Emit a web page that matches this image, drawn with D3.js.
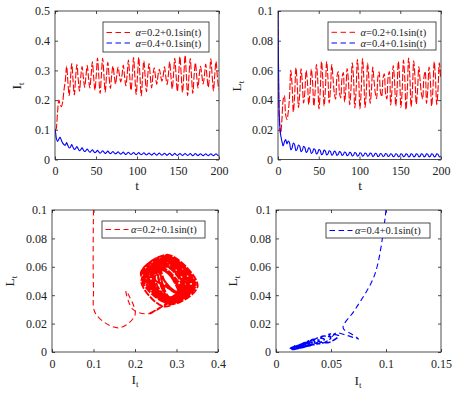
<!DOCTYPE html>
<html>
<head>
<meta charset="utf-8">
<script src="https://cdn.jsdelivr.net/npm/d3@7"></script>
<style>
  body { margin: 0; background: #fff; }
  text { font-family: "Liberation Serif", "Times New Roman", serif; fill: #222; }
</style>
</head>
<body>
<script>
// sample times (about four per forcing period after the start-up)
var tGrid = [0, 0.8, 1.57, 3.14, 4.71, 6.28, 7.85, 9.42, 11.0,
  12.57, 14.14, 15.71, 17.28,   18.85, 20.42, 21.99, 23.56,
  25.13, 26.7, 28.27, 29.85,    31.42, 32.99, 34.56, 36.13,
  37.7, 39.27, 40.84, 42.41,    43.98, 45.55, 47.12, 48.69,
  50.27, 51.84, 53.41, 54.98,   56.55, 58.12, 59.69, 61.26,
  62.83, 64.4, 65.97, 67.54,    69.12, 70.69, 72.26, 73.83,
  75.4, 76.97, 78.54, 80.11,    81.68, 83.25, 84.82, 86.39,
  87.96, 89.54, 91.11, 92.68,   94.25, 95.82, 97.39, 98.96,
  100.53, 102.1, 103.67, 105.24, 106.81, 108.38, 109.96, 111.53,
  113.1, 114.67, 116.24, 117.81, 119.38, 120.95, 122.52, 124.09,
  125.66, 127.23, 128.81, 130.38, 131.95, 133.52, 135.09, 136.66,
  138.23, 139.8, 141.37, 142.94, 144.51, 146.08, 147.65, 149.23,
  150.8, 152.37, 153.94, 155.51, 157.08, 158.65, 160.22, 161.79,
  163.36, 164.93, 166.5, 168.07, 169.65, 171.22, 172.79, 174.36,
  175.93, 177.5, 179.07, 180.64, 182.21, 183.78, 185.35, 186.92,
  188.5, 190.07, 191.64, 193.21, 194.78, 196.35, 197.92, 199.49];

// alpha = 0.2 + 0.1 sin(t)
var redI = [0.100, 0.100, 0.105, 0.160, 0.200, 0.185, 0.178, 0.195, 0.235,
  0.265, 0.315, 0.262, 0.215,  0.270, 0.323, 0.268, 0.217,
  0.275, 0.320, 0.272, 0.230,  0.278, 0.313, 0.276, 0.243,
  0.279, 0.317, 0.277, 0.241,  0.281, 0.329, 0.278, 0.233,
  0.282, 0.342, 0.280, 0.222,  0.284, 0.341, 0.282, 0.227,
  0.283, 0.327, 0.280, 0.239,  0.284, 0.314, 0.282, 0.254,
  0.286, 0.311, 0.284, 0.261,  0.283, 0.318, 0.281, 0.248,
  0.284, 0.335, 0.281, 0.233,  0.281, 0.343, 0.279, 0.219,
  0.279, 0.344, 0.277, 0.214,  0.280, 0.332, 0.278, 0.228,
  0.282, 0.323, 0.280, 0.241,  0.281, 0.309, 0.280, 0.253,
  0.284, 0.304, 0.283, 0.264,  0.282, 0.312, 0.280, 0.252,
  0.284, 0.330, 0.281, 0.238,  0.285, 0.341, 0.283, 0.229,
  0.286, 0.346, 0.284, 0.226,  0.283, 0.351, 0.280, 0.215,
  0.281, 0.340, 0.279, 0.222,  0.283, 0.325, 0.281, 0.241,
  0.284, 0.314, 0.283, 0.254,  0.282, 0.321, 0.280, 0.243,
  0.285, 0.339, 0.283, 0.231,  0.283, 0.330, 0.281, 0.236];

var redL = [0.100, 0.045, 0.027, 0.017, 0.026, 0.040, 0.043, 0.030, 0.027,
  0.032, 0.042, 0.060, 0.050,      0.032, 0.043, 0.062, 0.051,
  0.035, 0.0445, 0.061, 0.0515,    0.038, 0.046, 0.060, 0.052,
  0.037, 0.0457, 0.061, 0.0523,    0.036, 0.046, 0.064, 0.054,
  0.034, 0.046, 0.066, 0.054,      0.036, 0.047, 0.066, 0.055,
  0.038, 0.0475, 0.064, 0.0545,    0.0446, 0.0407, 0.0554, 0.0593,
  0.0451, 0.0415, 0.0549, 0.0585,  0.0387, 0.047, 0.0613, 0.053,
  0.0369, 0.0472, 0.0651, 0.0548,  0.0347, 0.0466, 0.0673, 0.0554,
  0.0341, 0.0465, 0.0679, 0.0555,  0.035, 0.046, 0.065, 0.054,
  0.0378, 0.0467, 0.0622, 0.0533,  0.0448, 0.041, 0.0552, 0.059,
  0.0456, 0.0423, 0.0544, 0.0577,  0.0446, 0.0407, 0.0554, 0.0593,
  0.0368, 0.0465, 0.0632, 0.0535,  0.036, 0.047, 0.066, 0.055,
  0.0351, 0.0467, 0.0669, 0.0553,  0.0336, 0.0463, 0.0684, 0.0557,
  0.0355, 0.0468, 0.0665, 0.0552,  0.0374, 0.0466, 0.0626, 0.0534,
  0.0446, 0.0407, 0.0554, 0.0593,  0.0378, 0.0467, 0.0622, 0.0533,
  0.036, 0.047, 0.066, 0.055,      0.0369, 0.0472, 0.0651, 0.0548];

// alpha = 0.4 + 0.1 sin(t)
var blueI = [0.100, 0.090, 0.072, 0.061, 0.069, 0.075, 0.064, 0.055, 0.050,
  0.048, 0.057, 0.047, 0.039,      0.042, 0.050, 0.041, 0.034,
  0.037, 0.044, 0.036, 0.030,      0.033, 0.039, 0.032, 0.027,
  0.030, 0.0355, 0.0295, 0.0245,   0.028, 0.033, 0.0275, 0.023,
  0.026, 0.0308, 0.0255, 0.0212,   0.025, 0.0295, 0.0245, 0.0205,
  0.024, 0.0283, 0.0235, 0.0197,   0.023, 0.027, 0.0225, 0.019,
  0.022, 0.026, 0.0215, 0.018,     0.021, 0.025, 0.0205, 0.017,
  0.0205, 0.0243, 0.020, 0.0167,   0.020, 0.0238, 0.0195, 0.0162,
  0.0195, 0.0232, 0.019, 0.0158,   0.019, 0.0227, 0.0185, 0.0153,
  0.0185, 0.0221, 0.018, 0.0149,   0.018, 0.0216, 0.0176, 0.0144,
  0.018, 0.0215, 0.0176, 0.0145,   0.0175, 0.021, 0.0171, 0.014,
  0.0175, 0.021, 0.0171, 0.014,    0.017, 0.0205, 0.0166, 0.0135,
  0.017, 0.0204, 0.0166, 0.0136,   0.0168, 0.0202, 0.0164, 0.0134,
  0.0165, 0.0199, 0.0161, 0.0131,  0.0165, 0.0198, 0.0162, 0.0132,
  0.0163, 0.0196, 0.016, 0.013,    0.016, 0.0193, 0.0157, 0.0127,
  0.016, 0.0193, 0.0157, 0.0127,   0.016, 0.0192, 0.0157, 0.0128];

var blueL = [0.100, 0.055, 0.030, 0.017, 0.0125, 0.0092, 0.0118, 0.0135, 0.0105,
  0.0125, 0.0113, 0.0065, 0.0078,  0.0111, 0.0100, 0.0059, 0.0070,
  0.0098, 0.0089, 0.0052, 0.0062,  0.0089, 0.0080, 0.0047, 0.0056,
  0.0079, 0.0071, 0.0041, 0.0049,  0.0072, 0.0065, 0.0038, 0.0045,
  0.0067, 0.0060, 0.0033, 0.0040,  0.0063, 0.0056, 0.0031, 0.0038,
  0.0059, 0.0053, 0.0029, 0.0036,  0.0056, 0.0050, 0.0028, 0.0034,
  0.0053, 0.0048, 0.0027, 0.0033,  0.0050, 0.0045, 0.0026, 0.0031,
  0.0048, 0.0043, 0.0024, 0.0029,  0.0047, 0.0042, 0.0023, 0.0028,
  0.0045, 0.0041, 0.0023, 0.0028,  0.0044, 0.0040, 0.0022, 0.0027,
  0.0043, 0.0039, 0.0021, 0.0026,  0.0042, 0.0038, 0.0020, 0.0025,
  0.0040, 0.0036, 0.0020, 0.0024,  0.0040, 0.0036, 0.0020, 0.0024,
  0.0039, 0.0035, 0.0019, 0.0023,  0.0039, 0.0035, 0.0019, 0.0023,
  0.0039, 0.0035, 0.0019, 0.0023,  0.0038, 0.0034, 0.0018, 0.0022,
  0.0038, 0.0034, 0.0018, 0.0022,  0.0038, 0.0034, 0.0018, 0.0022,
  0.0038, 0.0034, 0.0018, 0.0022,  0.0038, 0.0034, 0.0018, 0.0022,
  0.0038, 0.0034, 0.0018, 0.0022,  0.0038, 0.0034, 0.0018, 0.0022];

// ticks and labels
var tTicks = [0, 50, 100, 150, 200];
var iTicks = [0, 0.1, 0.2, 0.3, 0.4, 0.5];
var lTicks = [0, 0.02, 0.04, 0.06, 0.08, 0.1];
var iTicksRed = [0, 0.1, 0.2, 0.3, 0.4];
var iTicksBlue = [0, 0.05, 0.1, 0.15];
var redLabel = "=0.2+0.1sin(t)";
var blueLabel = "=0.4+0.1sin(t)";

var red = "#ff0000", blue = "#0000ff";
var dash = "5.5,3.5";
var fmt = d3.format("~g");
var startUp = 9;   // samples before the periodic regime

var svg = d3.select("body").append("svg")
    .attr("width", 456)
    .attr("height", 397);

svg.append("rect").attr("width", 456).attr("height", 397).attr("fill", "#fff");

// draws one boxed axes with inward ticks on all sides
function makePanel(id, box, xDomain, yDomain, xTicks, yTicks) {
    var x = d3.scaleLinear().domain(xDomain).range([box.left, box.right]);
    var y = d3.scaleLinear().domain(yDomain).range([box.bottom, box.top]);

    svg.append("clipPath").attr("id", id)
        .append("rect")
        .attr("x", box.left).attr("y", box.top)
        .attr("width", box.right - box.left).attr("height", box.bottom - box.top);

    var axes = [
        {ax: d3.axisBottom(x).tickValues(xTicks).tickFormat(fmt).tickPadding(7), tr: [0, box.bottom]},
        {ax: d3.axisTop(x).tickValues(xTicks).tickFormat(""), tr: [0, box.top]},
        {ax: d3.axisLeft(y).tickValues(yTicks).tickFormat(fmt).tickPadding(5), tr: [box.left, 0]},
        {ax: d3.axisRight(y).tickValues(yTicks).tickFormat(""), tr: [box.right, 0]}
    ];
    axes.forEach(function(a) {
        var g = svg.append("g")
            .attr("transform", "translate(" + a.tr[0] + "," + a.tr[1] + ")")
            .attr("color", "#222")
            .call(a.ax.tickSizeInner(-3).tickSizeOuter(0));
        g.attr("font-family", null).attr("font-size", 12);
        g.select(".domain").remove();
        g.selectAll("line").attr("stroke-width", 0.8);
    });

    var plot = svg.append("g").attr("clip-path", "url(#" + id + ")");
    return {x: x, y: y, plot: plot, box: box};
}

function boxFrame(p) {
    svg.append("rect")
        .attr("x", p.box.left).attr("y", p.box.top)
        .attr("width", p.box.right - p.box.left).attr("height", p.box.bottom - p.box.top)
        .attr("fill", "none").attr("stroke", "#222").attr("stroke-width", 0.8);
}

// path through samples from..to-1 of two parallel arrays
function addLine(p, xs, ys, color, width, dashes, from, to) {
    var line = d3.line()
        .x(function(i) { return p.x(xs[i]); })
        .y(function(i) { return p.y(ys[i]); })
        .curve(d3.curveCatmullRom);
    p.plot.append("path")
        .attr("d", line(d3.range(from || 0, to || xs.length)))
        .attr("fill", "none")
        .attr("stroke", color)
        .attr("stroke-width", width)
        .attr("stroke-dasharray", dashes);
}

function addLegend(x, y, w, h, rows, lineLen, textGap) {
    svg.append("rect")
        .attr("x", x).attr("y", y).attr("width", w).attr("height", h)
        .attr("fill", "#fff").attr("stroke", "#222").attr("stroke-width", 0.8);
    rows.forEach(function(r) {
        svg.append("line")
            .attr("x1", x + 3.5).attr("x2", x + 3.5 + lineLen)
            .attr("y1", r.y).attr("y2", r.y)
            .attr("stroke", r.color).attr("stroke-width", 1)
            .attr("stroke-dasharray", dash);
        var t = svg.append("text")
            .attr("x", x + 3.5 + lineLen + textGap).attr("y", r.y + 3.6)
            .attr("font-size", 10.5);
        t.append("tspan").attr("font-style", "italic").text("\u03b1");
        t.append("tspan").text(r.label);
    });
}

function axisLabel(x, y, main, sub, rotate) {
    var t = svg.append("text")
        .attr("transform", "translate(" + x + "," + y + ")" + (rotate ? " rotate(-90)" : ""))
        .attr("text-anchor", "middle")
        .attr("font-size", 13.5);
    t.append("tspan").text(main);
    if (sub) t.append("tspan").attr("font-size", 9).attr("dy", 3).text(sub);
}

// top left: I_t over time
var p1 = makePanel("c1", {left: 55, right: 219, top: 11, bottom: 159.5}, [0, 200], [0, 0.5], tTicks, iTicks);
addLine(p1, tGrid, redI, red, 1.1, "7,2");
addLine(p1, tGrid, blueI, blue, 1.1, null);
boxFrame(p1);
addLegend(103, 22, 106, 30, [{y: 32.5, color: red, label: redLabel}, {y: 43, color: blue, label: blueLabel}], 26, 3);
axisLabel(21, 86, "I", "t", true);
axisLabel(137, 190, "t", null, false);

// top right: L_t over time
var p2 = makePanel("c2", {left: 278, right: 441, top: 11, bottom: 159.5}, [0, 200], [0, 0.1], tTicks, lTicks);
addLine(p2, tGrid, redL, red, 1.1, "7,2");
addLine(p2, tGrid, blueL, blue, 1.1, null);
boxFrame(p2);
addLegend(328, 22, 108, 28, [{y: 32.3, color: red, label: redLabel}, {y: 43, color: blue, label: blueLabel}], 26, 3);
axisLabel(241, 86, "L", "t", true);
axisLabel(360, 190, "t", null, false);

// bottom left: phase plane, alpha = 0.2 + 0.1 sin(t)
var p3 = makePanel("c3", {left: 52, right: 218, top: 210, bottom: 352}, [0, 0.4], [0, 0.1], iTicksRed, lTicks);
addLine(p3, redI, redL, red, 1.1, dash, 0, startUp + 1);
addLine(p3, redI, redL, red, 1.9, "7,1.5", startUp - 1);
boxFrame(p3);
addLegend(102, 221, 103, 17, [{y: 229.5, color: red, label: redLabel}], 23, 2.5);
axisLabel(14, 281, "L", "t", true);
axisLabel(135, 384, "I", "t", false);

// bottom right: phase plane, alpha = 0.4 + 0.1 sin(t)
var p4 = makePanel("c4", {left: 276, right: 441, top: 210, bottom: 352}, [0, 0.15], [0, 0.1], iTicksBlue, lTicks);
addLine(p4, blueI, blueL, blue, 1.1, dash, 0, startUp + 1);
addLine(p4, blueI, blueL, blue, 1.4, "6,2", startUp - 1);
boxFrame(p4);
addLegend(326, 223, 104, 15, [{y: 230.5, color: blue, label: blueLabel}], 23, 2.5);
axisLabel(237, 281, "L", "t", true);
axisLabel(358, 385, "I", "t", false);
</script>
</body>
</html>
